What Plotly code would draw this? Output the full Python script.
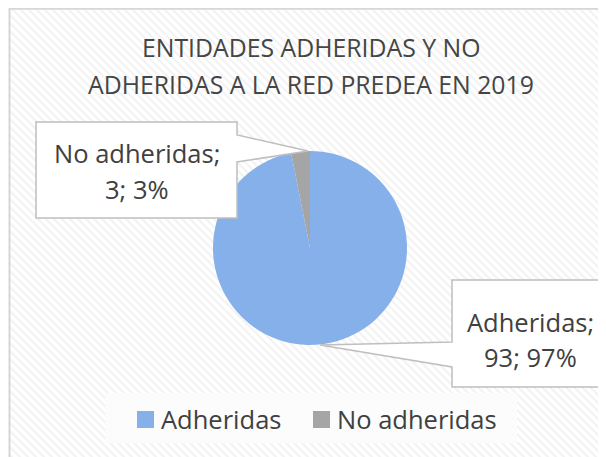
import plotly.graph_objects as go

# page offset (browser body margin) -> figure drawn from (8, 8)
OFF = 8
W, H = 606 - OFF, 457 - OFF

labels = ["Adheridas", "No adheridas"]
values = [93, 3]
colors = ["#85B0E9", "#A5A5A5"]
title_lines = ["ENTIDADES ADHERIDAS Y NO", "ADHERIDAS A LA RED PREDEA EN 2019"]


def px(x):
    return (x - OFF) / W


def py(y):
    return 1 - (y - OFF) / H


total = sum(values)
pcts = [round(100 * v / total) for v in values]

fig = go.Figure(
    go.Pie(
        labels=labels,
        values=values,
        marker=dict(colors=colors, line=dict(width=0)),
        sort=False,
        direction="clockwise",
        rotation=0,
        textinfo="none",
        hoverinfo="label+value+percent",
        domain=dict(x=[px(213), px(407)], y=[py(345), py(151)]),
        showlegend=False,
    )
)

shapes = []
# background stripes
step = 8
x0 = -H - 20
while x0 < W + 20:
    shapes.append(dict(type="line", xref="paper", yref="paper",
                       x0=px(x0), y0=py(0), x1=px(x0 + 470), y1=py(470),
                       line=dict(color="#F3F3F3", width=2.2), layer="below"))
    x0 += step
# mask outside chart area
shapes.append(dict(type="rect", xref="paper", yref="paper", x0=px(-5), x1=px(9.5), y0=py(470), y1=py(-5),
                   fillcolor="white", line=dict(width=0), layer="below"))
# outer border
shapes.append(dict(type="path", xref="paper", yref="paper",
                   path=f"M{px(9.5)},{py(470)} L{px(9.5)},{py(8.8)} L{px(620)},{py(8.8)}",
                   line=dict(color="#D6D6D6", width=2), layer="below"))
# legend box
shapes.append(dict(type="rect", xref="paper", yref="paper", x0=px(105), x1=px(517), y0=py(443), y1=py(393),
                   fillcolor="#FCFCFC", line=dict(width=0), layer="below"))


def callout(pts):
    p = "M" + " L".join(f"{px(a)},{py(b)}" for a, b in pts) + " Z"
    return dict(type="path", xref="paper", yref="paper", path=p,
                fillcolor="white", line=dict(color="#BFBFBF", width=1.5), layer="above")


shapes.append(callout([(36, 122), (237, 122), (237, 135), (308, 151), (237, 162), (237, 218), (36, 218)]))
shapes.append(callout([(452, 280), (612, 280), (612, 387), (452, 387), (452, 367), (320, 345), (452, 342)]))

# legend squares
leg_sq = [(137, 411), (313, 411)]
for (sx, sy), c in zip(leg_sq, colors):
    shapes.append(dict(type="rect", xref="paper", yref="paper", x0=px(sx), x1=px(sx + 17), y0=py(sy + 17), y1=py(sy),
                       fillcolor=c, line=dict(width=0)))

annotations = []
tfont = dict(family="Open Sans", size=24.8, color="#454545")
for ty, t in zip([47.5, 84], title_lines):
    annotations.append(dict(x=px(310.5), y=py(ty), xref="paper", yref="paper", text=t, showarrow=False,
                            xanchor="center", yanchor="middle", font=tfont))

lfont = dict(family="Open Sans", size=25.5, color="#404040")
label_pos = [(530, 322, 357), (137, 153, 189)]
for (cx, y1, y2), lab, v, p in zip(label_pos, labels, values, pcts):
    annotations.append(dict(x=px(cx), y=py(y1), xref="paper", yref="paper", text=f"{lab};", showarrow=False,
                            xanchor="center", yanchor="middle", font=lfont))
    annotations.append(dict(x=px(cx), y=py(y2), xref="paper", yref="paper", text=f"{v}; {p}%", showarrow=False,
                            xanchor="center", yanchor="middle", font=lfont))

legfont = dict(family="Open Sans", size=25.5, color="#404040")
leg_tx = [161, 337]
for tx, lab in zip(leg_tx, labels):
    annotations.append(dict(x=px(tx), y=py(419), xref="paper", yref="paper", text=lab, showarrow=False,
                            xanchor="left", yanchor="middle", xshift=-2, font=legfont))

fig.update_layout(
    width=W, height=H,
    margin=dict(l=0, r=0, t=0, b=0),
    paper_bgcolor="white",
    plot_bgcolor="white",
    shapes=shapes,
    annotations=annotations,
    showlegend=False,
)

fig.write_html("out.html")
